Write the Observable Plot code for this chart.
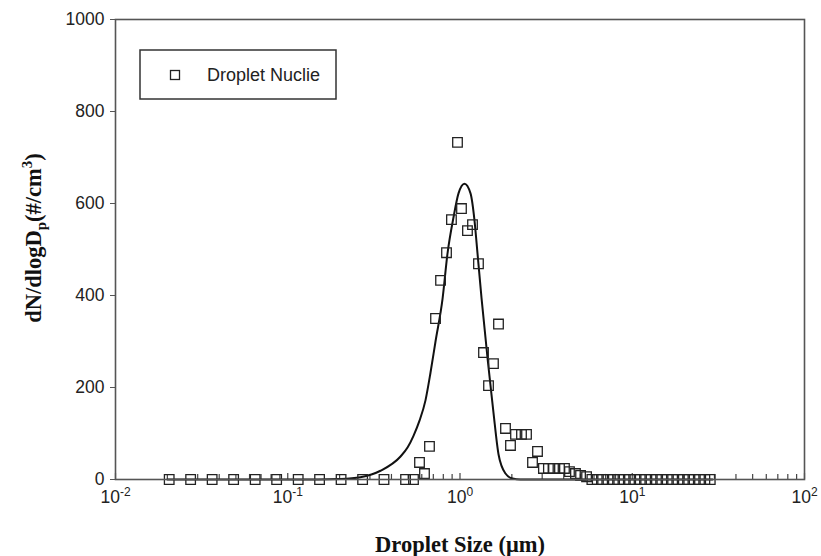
<!DOCTYPE html>
<html>
<head>
<meta charset="utf-8">
<script src="https://cdn.jsdelivr.net/npm/d3@7"></script>
<script src="https://cdn.jsdelivr.net/npm/@observablehq/plot@0.6"></script>
<style>
  html, body { margin: 0; padding: 0; background: #fff; }
  svg { display: block; }
</style>
</head>
<body>
<div id="chart"></div>
<script>
// ---- data ----
const seriesName = "Droplet Nuclie";

// measured droplet nuclei (squares): size in µm, dN/dlogDp in #/cm3
const sizeUm = [
  0.0205, 0.0273, 0.0364, 0.0485, 0.0647, 0.0862, 0.115, 0.153, 0.204, 0.272, 0.362, 0.483,
  0.537, 0.582, 0.622, 0.665, 0.721, 0.771, 0.835, 0.892, 0.967, 1.020, 1.105, 1.182,
  1.280, 1.369, 1.464, 1.564, 1.673, 1.837, 1.964, 2.100, 2.275, 2.433, 2.636, 2.818,
  3.05, 3.26, 3.49, 3.78, 4.04, 4.32, 4.68, 5.01, 5.43,
  5.83, 6.26, 6.73, 7.23, 7.77, 8.35, 8.97, 9.64, 10.36, 11.13, 11.96, 12.86,
  13.82, 14.85, 15.96, 17.15, 18.43, 19.80, 21.28, 22.87, 24.57, 26.40, 28.37
];
const concentration = [
  0, 0, 0, 0, 0, 0, 0, 0, 0, 0, 0, 0,
  0, 37, 13, 72, 350, 433, 493, 565, 733, 589, 541, 554,
  469, 276, 204, 252, 338, 111, 74, 98, 98, 98, 37, 61,
  24, 24, 24, 24, 24, 17, 13, 9, 6,
  0, 0, 0, 0, 0, 0, 0, 0, 0, 0, 0, 0,
  0, 0, 0, 0, 0, 0, 0, 0, 0, 0, 0
];

// fitted distribution curve (solid line)
const fitSizeUm = [
  0.02, 0.15, 0.2024, 0.2644, 0.3455, 0.4516, 0.497, 0.537, 0.582, 0.6304, 0.674,
  0.7208, 0.7915, 0.846, 0.917, 0.9802, 1.062, 1.151, 1.214, 1.264, 1.333, 1.444,
  1.503, 1.565, 1.673, 1.837, 2.017, 2.245, 29.2
];
const fitConcentration = [
  0, 0, 1, 5, 19, 50, 70, 95, 128, 172, 232,
  300, 392, 491, 570, 622, 643, 622, 563, 491, 395, 265,
  205, 145, 55, 13, 2, 0, 0
];

// axes
const xTickValues = [0.01, 0.1, 1, 10, 100];
const xTickExponents = ["-2", "-1", "0", "1", "2"];
const yTickValues = [0, 200, 400, 600, 800, 1000];
const xMinorMultipliers = [2, 3, 4, 5, 6, 7, 8, 9];

// ---- build tables ----
const points = sizeUm.map((d, i) => ({d, n: concentration[i]}));
const fit = fitSizeUm.map((d, i) => ({d, n: fitConcentration[i]}));
const minorTicks = [];
xTickValues.slice(0, -1).forEach(dec => xMinorMultipliers.forEach(m => minorTicks.push(dec * m)));

const plot = Plot.plot({
  width: 821,
  height: 556,
  marginLeft: 115,
  marginRight: 17,
  marginTop: 19,
  marginBottom: 77,
  style: {
    fontFamily: "'Liberation Sans', Arial, Helvetica, sans-serif",
    fontSize: "17.5px",
    color: "#222",
    background: "#fff"
  },
  x: {type: "log", domain: [0.01, 100], label: null},
  y: {domain: [0, 1000], label: null},
  marks: [
    Plot.ruleX(minorTicks, {x: d => d, y1: 0, y2: 11, stroke: "#444", strokeWidth: 1.2}),
    Plot.ruleX(xTickValues, {x: d => d, y1: 0, y2: 13, stroke: "#444", strokeWidth: 1.2}),
    Plot.line(fit, {x: "d", y: "n", curve: "monotone-x", stroke: "#111", strokeWidth: 2}),
    Plot.dot(points, {x: "d", y: "n", symbol: "square", r: 5.4, stroke: "#222", strokeWidth: 1.3, fill: "none"}),
    Plot.frame({stroke: "#555", strokeWidth: 1.6}),
    Plot.axisY({ticks: yTickValues, tickSize: 5, tickPadding: 6, label: null, tickFormat: d => String(d), stroke: "#555"}),
    Plot.axisX({ticks: xTickValues, tickSize: 0, tickPadding: 11, label: null,
      tickFormat: d => xTickExponents[xTickValues.indexOf(d)]})
  ]
});

document.getElementById("chart").appendChild(plot);
const svg = d3.select(plot);

// superscripted decade labels
svg.selectAll('g[aria-label="x-axis tick label"] text').each(function () {
  const e = this.textContent;
  const t = d3.select(this);
  t.text(null);
  t.append("tspan").text("10");
  t.append("tspan").attr("dy", "-7").attr("font-size", "12px").text(e);
});

// y-axis title
const serif = "'Liberation Serif', 'Times New Roman', Times, serif";
const yl = svg.append("text")
  .attr("transform", "translate(41,238) rotate(-90)")
  .attr("text-anchor", "middle")
  .attr("font-family", serif)
  .attr("font-weight", "bold")
  .attr("font-size", "22.5px")
  .attr("fill", "#111");
yl.append("tspan").text("dN/dlogD");
yl.append("tspan").attr("font-size", "15px").attr("dy", "5").text("p");
yl.append("tspan").attr("dy", "-5").text("(#/cm");
yl.append("tspan").attr("font-size", "15px").attr("dy", "-9").text("3");
yl.append("tspan").attr("dy", "9").text(")");

// x-axis title
svg.append("text")
  .attr("x", 460).attr("y", 552)
  .attr("text-anchor", "middle")
  .attr("font-family", serif)
  .attr("font-weight", "bold")
  .attr("font-size", "22.5px")
  .attr("fill", "#111")
  .text("Droplet Size (\u03bcm)");

// legend
const lg = svg.append("g");
lg.append("rect").attr("x", 140).attr("y", 50).attr("width", 196).attr("height", 49)
  .attr("fill", "#fff").attr("stroke", "#333").attr("stroke-width", 1.5);
lg.append("rect").attr("x", 170.5).attr("y", 70.5).attr("width", 9).attr("height", 9)
  .attr("fill", "none").attr("stroke", "#222").attr("stroke-width", 1.3);
lg.append("text").attr("x", 207).attr("y", 81)
  .attr("text-anchor", "start")
  .attr("font-family", "'Liberation Sans', Arial, sans-serif")
  .attr("font-size", "18px").attr("fill", "#222")
  .text(seriesName);
</script>
</body>
</html>
